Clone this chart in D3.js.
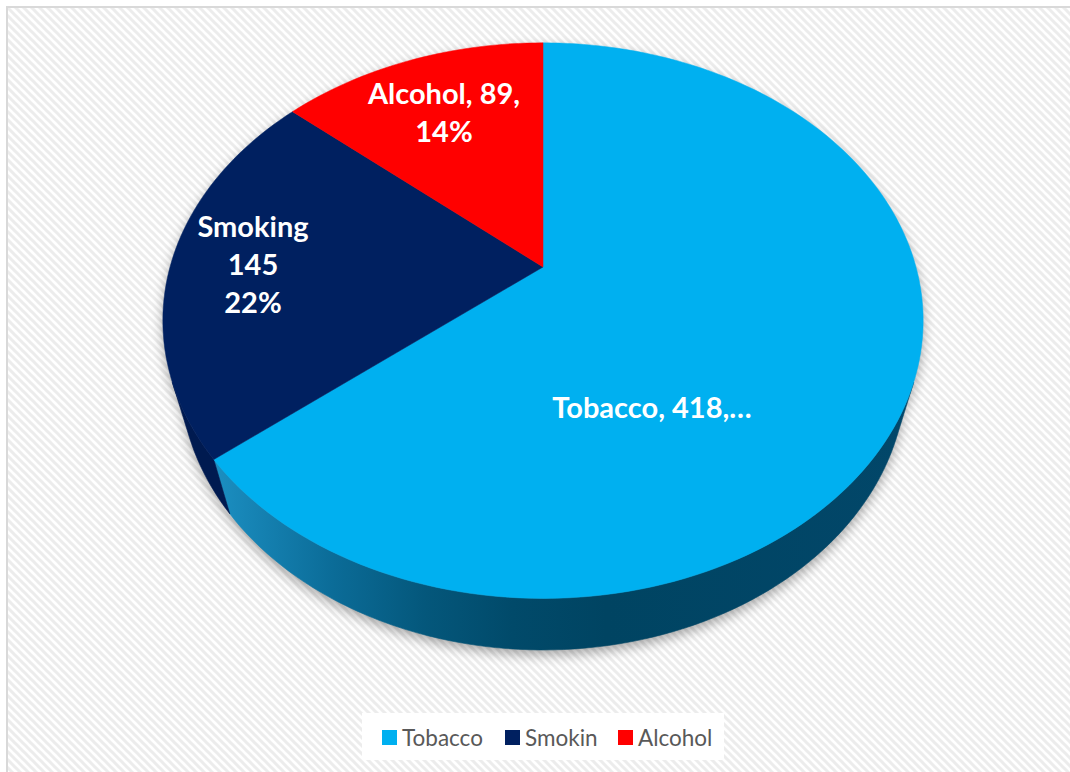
<!DOCTYPE html>
<html>
<head>
<meta charset="utf-8">
<script src="https://cdn.jsdelivr.net/npm/d3@7"></script>
<style>
  html, body { margin: 0; padding: 0; background: #ffffff; }
  svg { display: block; }
</style>
</head>
<body>
<svg id="chart" width="1070" height="772"></svg>
<script>
// ---- data ----
const categories = ["Tobacco", "Smoking", "Alcohol"];
const values = [418, 145, 89];
const legendLabels = ["Tobacco", "Smokin", "Alcohol"];
const topColors = ["#00b0f0", "#002060", "#ff0000"];
const sideColors = ["url(#tobaccoSide)", "#001a50", "#b00000"];

// ---- 3D pie geometry (unit radius disc, perspective camera) ----
const geo = {
  cx: 543, cy: 267,     // screen position of the disc centre
  k: 373,               // pixels per unit radius
  phi: Math.asin(0.717),// camera elevation
  dist: 3.61,           // camera distance (in radii)
  depth: 0.226          // disc thickness (in radii)
};
const sinP = Math.sin(geo.phi), cosP = Math.cos(geo.phi);

function project(x, y, z) {
  // y: towards the back of the disc, z: up
  const v = y * sinP + z * cosP;
  const w = -y * cosP + z * sinP;
  const s = geo.dist / (geo.dist - w);
  return [geo.cx + geo.k * x * s, geo.cy - geo.k * v * s];
}
// a = angle clockwise from 12 o'clock, seen from above
function rim(a, z) { return project(Math.sin(a), Math.cos(a), z); }

const svg = d3.select("#chart");
const defs = svg.append("defs");

// background hatch
const pat = defs.append("pattern")
  .attr("id", "hatch").attr("patternUnits", "userSpaceOnUse")
  .attr("width", 8).attr("height", 8);
pat.append("rect").attr("width", 8).attr("height", 8).attr("fill", "#ffffff");
pat.append("path")
  .attr("d", "M-2,-2 L10,10 M-2,6 L2,10 M6,-2 L10,2")
  .attr("stroke", "#ececec").attr("stroke-width", 3);

// side gradient for the tobacco wall
const grad = defs.append("linearGradient")
  .attr("id", "tobaccoSide").attr("gradientUnits", "userSpaceOnUse")
  .attr("x1", 210).attr("y1", 0).attr("x2", 930).attr("y2", 0);
[[0, "#1c90c3"], [0.17, "#0b6c98"], [0.3, "#04577b"], [0.42, "#014a6a"], [0.55, "#004462"], [1, "#02476a"]]
  .forEach(([o, c]) => grad.append("stop").attr("offset", o).attr("stop-color", c));

// soft drop shadow
const blur = defs.append("filter").attr("id", "shadow")
  .attr("x", "-20%").attr("y", "-20%").attr("width", "140%").attr("height", "140%");
blur.append("feGaussianBlur").attr("stdDeviation", 6);

// chart area
svg.append("rect")
  .attr("x", 7).attr("y", 7).attr("width", 1100).attr("height", 820)
  .attr("fill", "url(#hatch)").attr("stroke", "#d9d9d9").attr("stroke-width", 2);

const pie = d3.pie().sort(null).startAngle(0).endAngle(2 * Math.PI);
const arcs = pie(values);
const total = d3.sum(values);

const line = d3.line();
const N = 240;
function ringPoints(a0, a1, z) {
  const n = Math.max(2, Math.ceil((a1 - a0) / (2 * Math.PI) * N));
  return d3.range(n + 1).map(i => rim(a0 + (a1 - a0) * i / n, z));
}

// shadow under the disc (top outline and bottom outline)
const gShadow = svg.append("g")
  .attr("transform", "translate(0,5)")
  .attr("opacity", 0.33)
  .attr("filter", "url(#shadow)");
[0, -geo.depth].forEach(z => {
  gShadow.append("path")
    .attr("d", line(ringPoints(0, 2 * Math.PI, z)) + "Z")
    .attr("fill", "#000");
});

// outer walls: only the part facing the camera
const threshold = -1 / (geo.dist * cosP);
const gWalls = svg.append("g");
arcs.forEach((d, i) => {
  const c = Math.acos(threshold); // visible for a in (c, 2π - c)
  const a0 = Math.max(d.startAngle, c), a1 = Math.min(d.endAngle, 2 * Math.PI - c);
  if (a1 <= a0) return;
  const top = ringPoints(a0, a1, 0);
  const bot = ringPoints(a0, a1, -geo.depth).reverse();
  gWalls.append("path")
    .attr("d", line(top.concat(bot)) + "Z")
    .attr("fill", sideColors[i])
    .attr("stroke", sideColors[i]).attr("stroke-width", 0.6);
});

// top faces
const gTop = svg.append("g");
arcs.forEach((d, i) => {
  const pts = [project(0, 0, 0)].concat(ringPoints(d.startAngle, d.endAngle, 0));
  gTop.append("path")
    .attr("d", line(pts) + "Z")
    .attr("fill", topColors[i])
    .attr("stroke", topColors[i]).attr("stroke-width", 0.5);
});

// data labels
const pct = v => Math.round(v / total * 100) + "%";
const labelLines = [
  [`${categories[0]}, ${values[0]},…`],
  [categories[1], String(values[1]), pct(values[1])],
  [`${categories[2]}, ${values[2]},`, pct(values[2])]
];
const labelPos = [[652, 408], [253, 265], [444, 113]];
const lineH = 38;
labelLines.forEach((lines, i) => {
  const [x, y] = labelPos[i];
  const t = svg.append("text")
    .attr("x", x).attr("text-anchor", "middle")
    .attr("font-family", "Lato, 'Open Sans', sans-serif")
    .attr("font-weight", "bold").attr("font-size", 29)
    .attr("fill", "#ffffff");
  lines.forEach((s, j) => {
    t.append("tspan").attr("x", x)
      .attr("y", y + (j - (lines.length - 1) / 2) * lineH)
      .attr("dy", "0.35em").text(s);
  });
});

// legend
const lg = svg.append("g");
lg.append("rect").attr("x", 362).attr("y", 713).attr("width", 362).attr("height", 47).attr("fill", "#ffffff");
const legX = [382, 505, 618];
legendLabels.forEach((s, i) => {
  lg.append("rect").attr("x", legX[i]).attr("y", 730).attr("width", 15).attr("height", 15).attr("fill", topColors[i]);
  lg.append("text").attr("x", legX[i] + 20).attr("y", 738).attr("dy", "0.35em")
    .attr("font-family", "Lato, 'Open Sans', sans-serif").attr("font-size", 22.5)
    .attr("fill", "#595959").text(s);
});
</script>
</body>
</html>
